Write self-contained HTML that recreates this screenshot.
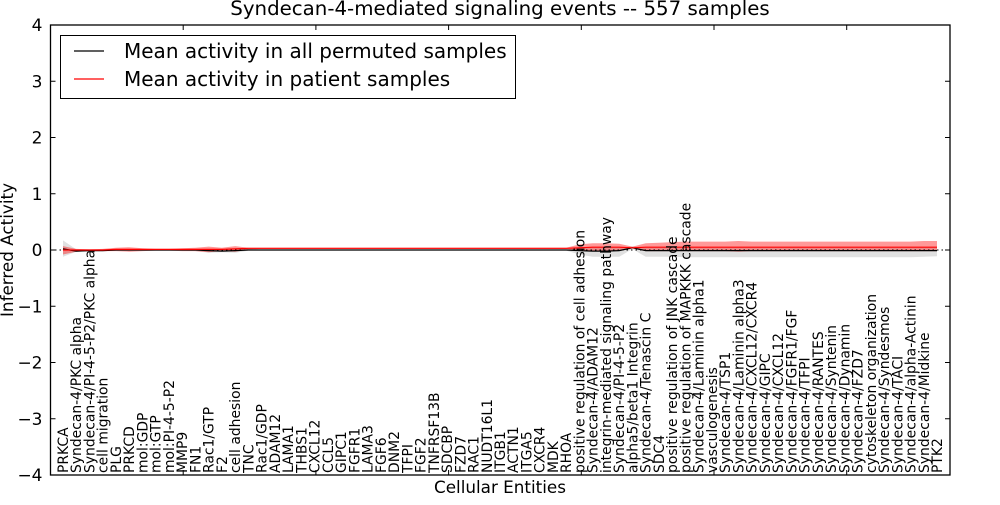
<!DOCTYPE html>
<html><head><meta charset="utf-8"><style>
html,body{margin:0;padding:0;background:#fff;}
svg text{font-family:"DejaVu Sans","Liberation Sans",sans-serif;fill:#000;}
</style></head><body>
<svg id="chart" width="1000" height="500" xmlns="http://www.w3.org/2000/svg">
<rect width="1000" height="500" fill="#fff"/>
<text x="500" y="15" font-size="19.8" text-anchor="middle">Syndecan-4-mediated signaling events -- 557 samples</text>
<g id="bands"></g><g id="lines"></g><g id="xlabels"></g><g id="axes"></g>
<text x="500" y="493" font-size="16.8" text-anchor="middle">Cellular Entities</text>
<text transform="translate(13,250) rotate(-90)" font-size="16.8" text-anchor="middle">Inferred Activity</text>
<g>
<rect x="60.5" y="35.5" width="455" height="63" fill="#fff" stroke="#000" stroke-width="1"/>
<line x1="74" y1="51" x2="104" y2="51" stroke="#000" stroke-width="1.2"/>
<text x="124" y="58" font-size="20">Mean activity in all permuted samples</text>
<line x1="74" y1="79" x2="104" y2="79" stroke="#f00" stroke-width="1.2"/>
<text x="124" y="86" font-size="20">Mean activity in patient samples</text>
</g>
</svg>
<script>
const categories=["PRKCA","Syndecan-4/PKC alpha","Syndecan-4/PI-4-5-P2/PKC alpha","cell migration","PLG","PRKCD","mol:GDP","mol:GTP","mol:PI-4-5-P2","MMP9","FN1","Rac1/GTP","F2","cell adhesion","TNC","Rac1/GDP","ADAM12","LAMA1","THBS1","CXCL12","CCL5","GIPC1","FGFR1","LAMA3","FGF6","DNM2","TFPI","FGF2","TNFRSF13B","SDCBP","FZD7","RAC1","NUDT16L1","ITGB1","ACTN1","ITGA5","CXCR4","MDK","RHOA","positive regulation of cell adhesion","Syndecan-4/ADAM12","integrin-mediated signaling pathway","Syndecan-4/PI-4-5-P2","alpha5/beta1 Integrin","Syndecan-4/Tenascin C","SDC4","positive regulation of JNK cascade","positive regulation of MAPKKK cascade","Syndecan-4/Laminin alpha1","vasculogenesis","Syndecan-4/TSP1","Syndecan-4/Laminin alpha3","Syndecan-4/CXCL12/CXCR4","Syndecan-4/GIPC","Syndecan-4/CXCL12","Syndecan-4/FGFR1/FGF","Syndecan-4/TFPI","Syndecan-4/RANTES","Syndecan-4/Syntenin","Syndecan-4/Dynamin","Syndecan-4/FZD7","cytoskeleton organization","Syndecan-4/Syndesmos","Syndecan-4/TACI","Syndecan-4/alpha-Actinin","Syndecan-4/Midkine","PTK2"];
const permMean=[0.02,-0.02,-0.01,-0.01,0,0,0,0,0,0,0,-0.01,-0.02,-0.01,0,0,0,0,0,0,0,0,0,0,0,0,0,0,0,0,0,0,0,0,0,0,0,0,0,-0.01,-0.02,-0.02,-0.01,0.04,-0.01,-0.01,-0.01,-0.01,-0.01,-0.01,-0.01,-0.01,-0.01,-0.01,-0.01,-0.01,-0.01,-0.01,-0.01,-0.01,-0.01,-0.01,-0.01,-0.01,-0.01,-0.01,-0.01];
const permLo=[-0.12,-0.03,-0.02,-0.02,-0.01,-0.01,-0.01,-0.01,-0.01,-0.01,-0.02,-0.05,-0.04,-0.05,-0.01,-0.01,-0.01,-0.01,-0.01,-0.01,-0.01,-0.01,-0.01,-0.01,-0.01,-0.01,-0.01,-0.01,-0.01,-0.01,-0.01,-0.01,-0.01,-0.01,-0.01,-0.01,-0.01,-0.01,-0.01,-0.08,-0.12,-0.12,-0.12,0.02,-0.12,-0.12,-0.12,-0.13,-0.13,-0.13,-0.13,-0.13,-0.13,-0.13,-0.13,-0.13,-0.13,-0.13,-0.13,-0.13,-0.13,-0.13,-0.13,-0.13,-0.13,-0.12,-0.11];
const permHi=[0.17,0.01,0.01,0.01,0.01,0.01,0.01,0.01,0.01,0.01,0.01,0.02,0.01,0.02,0.01,0.01,0.01,0.01,0.01,0.01,0.01,0.01,0.01,0.01,0.01,0.01,0.01,0.01,0.01,0.01,0.01,0.01,0.01,0.01,0.01,0.01,0.01,0.01,0.01,0.04,0.05,0.05,0.05,0.06,0.05,0.05,0.05,0.05,0.05,0.05,0.05,0.05,0.05,0.05,0.05,0.05,0.05,0.05,0.05,0.05,0.05,0.05,0.05,0.05,0.05,0.05,0.05];
const patMean=[0,0,0,0,0.01,0.01,0.01,0.01,0.01,0.01,0.01,0.01,0.01,0.02,0.03,0.03,0.03,0.03,0.03,0.03,0.03,0.03,0.03,0.03,0.03,0.03,0.03,0.03,0.03,0.03,0.03,0.03,0.03,0.03,0.03,0.03,0.03,0.03,0.03,0.04,0.05,0.05,0.05,0.04,0.05,0.05,0.05,0.05,0.05,0.05,0.05,0.05,0.05,0.05,0.05,0.05,0.05,0.05,0.05,0.05,0.05,0.05,0.05,0.05,0.05,0.05,0.05];
const patLo=[-0.08,-0.03,-0.02,-0.02,-0.02,-0.03,-0.02,-0.01,-0.01,-0.02,-0.02,-0.04,-0.02,-0.03,0.01,0.02,0.02,0.02,0.02,0.02,0.02,0.02,0.02,0.02,0.02,0.02,0.02,0.02,0.02,0.02,0.02,0.02,0.02,0.02,0.02,0.02,0.02,0.02,0.02,-0.01,-0.01,-0.01,-0.01,0.03,-0.02,-0.02,-0.02,-0.02,-0.02,-0.02,-0.02,-0.03,-0.02,-0.02,-0.02,-0.02,-0.02,-0.02,-0.02,-0.02,-0.02,-0.02,-0.02,-0.02,-0.02,-0.02,-0.02];
const patHi=[0.07,0.02,0.01,0.02,0.04,0.05,0.03,0.02,0.02,0.03,0.04,0.06,0.04,0.07,0.04,0.04,0.04,0.04,0.04,0.04,0.04,0.04,0.04,0.04,0.04,0.04,0.04,0.04,0.04,0.04,0.04,0.04,0.04,0.04,0.04,0.04,0.04,0.04,0.04,0.1,0.12,0.12,0.11,0.06,0.12,0.13,0.14,0.15,0.15,0.15,0.15,0.16,0.15,0.15,0.15,0.15,0.15,0.15,0.15,0.15,0.15,0.15,0.15,0.15,0.15,0.16,0.16];
const yTicks=[-4,-3,-2,-1,0,1,2,3,4];
const xTickIdx=[10,20,30,40,50,60];

const NS="http://www.w3.org/2000/svg";
const L=50.5,R=950,T=25,B=475;
function xs(i){return 63+i*(937-63)/(categories.length-1);}
function xTick(i){return L+i*13.27;}
function ys(v){return T+(4-v)*(B-T)/8;}
function mk(tag,attrs,parent){const e=document.createElementNS(NS,tag);for(const k in attrs)e.setAttribute(k,attrs[k]);parent.appendChild(e);return e;}
const bands=document.getElementById('bands'),lines=document.getElementById('lines'),xl=document.getElementById('xlabels'),ax=document.getElementById('axes');
function band(lo,hi,fill,op,name){
  let d="M"+lo.map((v,i)=>xs(i).toFixed(1)+","+ys(v).toFixed(1)).join("L");
  for(let i=hi.length-1;i>=0;i--)d+="L"+xs(i).toFixed(1)+","+ys(hi[i]).toFixed(1);
  const p=mk('path',{d:d+"Z",fill:fill,'fill-opacity':op},bands);
  
  
}
band(permLo,permHi,'#bbb',0.45,'permuted-band');
band(patLo,patHi,'#f00',0.4,'patient-band');
const z=mk('line',{x1:L,x2:R,y1:ys(0),y2:ys(0),stroke:'#000','stroke-dasharray':'1.5,3','stroke-width':1},lines);


function line(arr,col,name){
  const p=mk('polyline',{points:arr.map((v,i)=>xs(i).toFixed(1)+","+ys(v).toFixed(1)).join(" "),fill:'none',stroke:col,'stroke-width':1.2},lines);
  
  
}
line(permMean,'#000','permuted-mean-line');
line(patMean,'#f00','patient-mean-line');
categories.forEach((c,i)=>{
  const t=mk('text',{transform:`translate(${(xs(i)+5).toFixed(1)},473) rotate(-90)`,'font-size':13.9},xl);
  t.textContent=c;
  
  
});
const fr=mk('rect',{x:L,y:T,width:R-L,height:B-T,fill:'none',stroke:'#000','stroke-width':1.3},ax);


yTicks.forEach(v=>{
  const y=ys(v);
  mk('line',{x1:L,x2:L+5,y1:y,y2:y,stroke:'#000'},ax);
  mk('line',{x1:R-5,x2:R,y1:y,y2:y,stroke:'#000'},ax);
  const t=mk('text',{x:L-8,y:y+6,'font-size':17,'text-anchor':'end'},ax);
  t.textContent=v<0?"\u2212"+Math.abs(v):String(v);
  
  
});
xTickIdx.forEach(i=>{
  const x=xTick(i);
  mk('line',{x1:x,x2:x,y1:T,y2:T+5,stroke:'#000'},ax);
  mk('line',{x1:x,x2:x,y1:B-5,y2:B,stroke:'#000'},ax);
});
</script>
</body></html>
